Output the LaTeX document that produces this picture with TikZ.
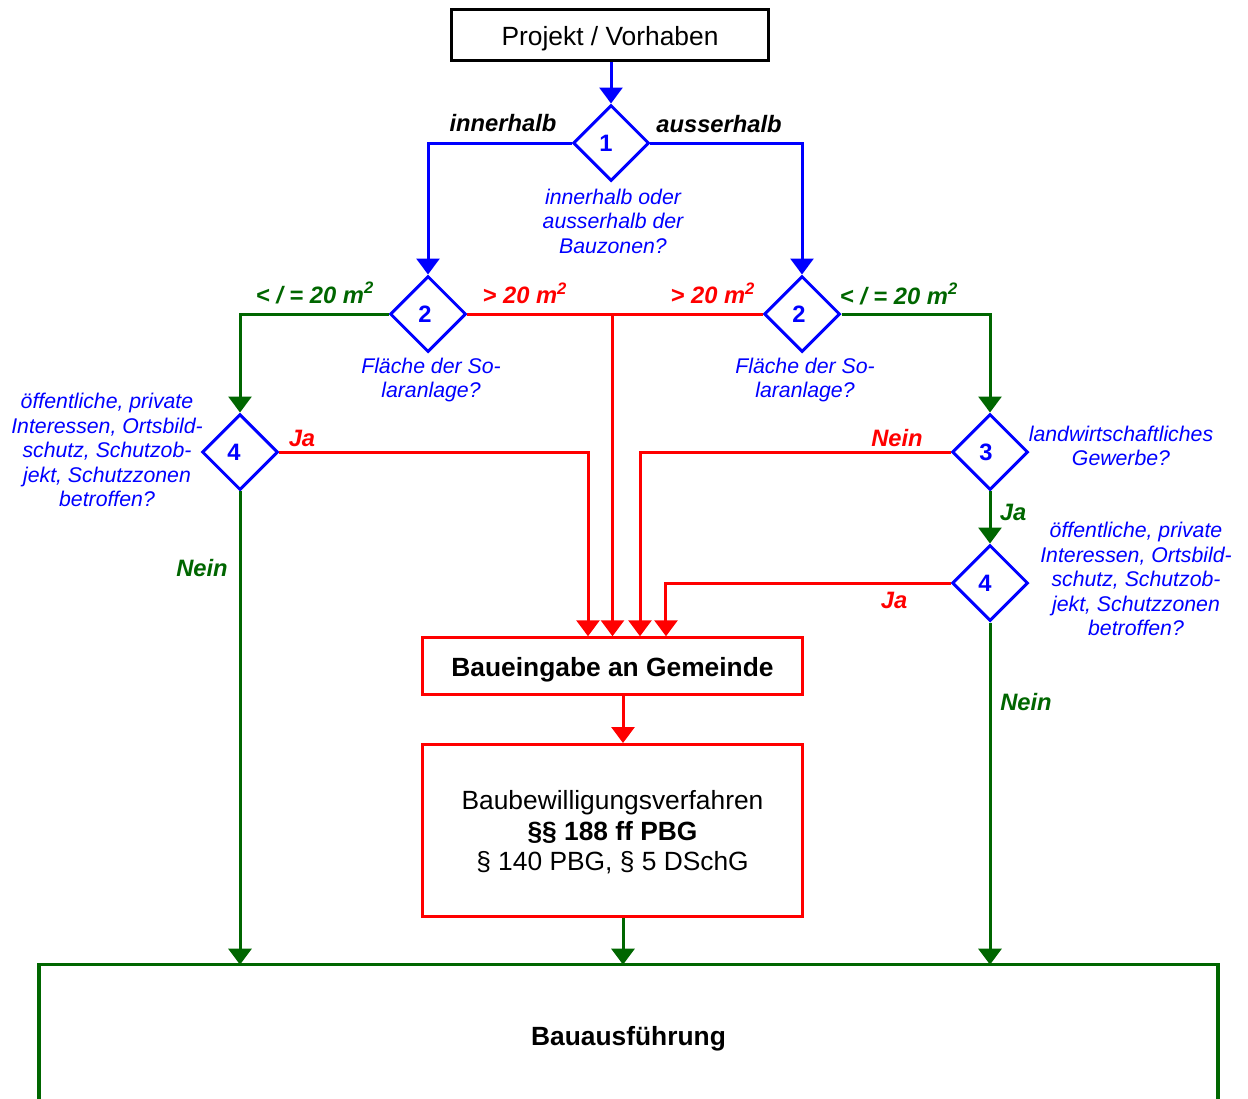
\documentclass[tikz,border=0pt]{standalone}
\usepackage{fontspec}
\setmainfont{Liberation Sans}
\usetikzlibrary{shapes.geometric,arrows.meta}
\definecolor{cblue}{RGB}{0,0,255}
\definecolor{cred}{RGB}{255,0,0}
\definecolor{cgreen}{RGB}{0,102,0}
\begin{document}
\begin{tikzpicture}[x=0.02cm,y=-0.02cm,
  tip/.style={-{Triangle[length=0.32cm,width=0.46cm]}},
  dia/.style={diamond,draw=cblue,line width=0.06cm,minimum width=1.52cm,minimum height=1.52cm,
    inner sep=0pt,aspect=1,fill=white,font=\fontsize{13.5}{16}\selectfont\bfseries,text=cblue},
  q/.style={font=\fontsize{12.1}{13.9}\selectfont\itshape,text=cblue,align=center,inner sep=0pt},
  lab/.style={font=\fontsize{13.5}{16}\selectfont\bfseries\itshape,inner sep=0pt},
  bline/.style={draw=cblue,line width=0.06cm},
  rline/.style={draw=cred,line width=0.06cm},
  gline/.style={draw=cgreen,line width=0.06cm},
  boxtext/.style={font=\fontsize{15}{17.3}\selectfont,align=center,inner sep=0pt}
]
\useasboundingbox (0,0) rectangle (1248,1099);

% boxes
\node[boxtext,draw=black,line width=0.06cm,minimum width=6.34cm,minimum height=1.02cm,
  text height=12pt,text depth=0pt] (pv) at (610,35) {Projekt / Vorhaben};
\node[boxtext,draw=cred,line width=0.06cm,minimum width=7.61cm,minimum height=1.13cm,
  font=\fontsize{15}{17.3}\selectfont\bfseries,text height=12.5pt,text depth=0pt] (be) at (612.5,666)
  {Baueingabe an Gemeinde};
\node[boxtext,draw=cred,line width=0.06cm,minimum width=7.61cm,minimum height=3.44cm,text depth=0pt] (bw) at (612.5,830.5)
  {Baubewilligungsverfahren\\\textbf{§§ 188 ff PBG}\\§ 140 PBG, § 5 DSchG};
\node[boxtext,font=\fontsize{15}{17.3}\selectfont\bfseries,minimum width=23.58cm,minimum height=2.68cm,
  text height=15.8pt,text depth=0pt] (ba) at (628.5,1032) {Bauausführung};
\draw[gline,line width=0.07cm] (ba.south west) -- (ba.north west) -- (ba.north east) -- (ba.south east);

% diamonds
\node[dia] (d1) at (611,143) {\kern-0.2cm 1};
\node[dia] (d2l) at (428,314) {\kern-0.12cm 2};
\node[dia] (d2r) at (802,314) {\kern-0.12cm 2};
\node[dia] (d4l) at (240,452) {\kern-0.24cm 4};
\node[dia] (d3) at (990,452) {\kern-0.16cm 3};
\node[dia] (d4r) at (990,583) {\kern-0.2cm 4};

% blue connectors
\draw[bline,tip] (pv.south -| d1.north) -- (d1.north);
\draw[bline,tip] (d1.west) -| (d2l.north);
\draw[bline,tip] (d1.east) -| (d2r.north);

% red connectors
\draw[rline] (d2l.east) -- (d2r.west);
\draw[rline,tip] (d2l.east -| be.north) -- (be.north);
\draw[rline,tip] (d4l.east) -| ([xshift=-0.49cm]be.north);
\draw[rline,tip] (d3.west) -| ([xshift=0.55cm]be.north);
\draw[rline,tip] (d4r.west) -| ([xshift=1.07cm]be.north);
\draw[rline,tip] ([xshift=0.21cm]be.south) -- ([xshift=0.21cm]bw.north);

% green connectors
\draw[gline,tip] (d2l.west) -| (d4l.north);
\draw[gline,tip] (d2r.east) -| (d3.north);
\draw[gline,tip] (d3.south) -- (d4r.north);
\draw[gline,tip] (d4l.south) -- (d4l.south |- ba.north);
\draw[gline,tip] (d4r.south) -- (d4r.south |- ba.north);
\draw[gline,tip] ([xshift=0.21cm]bw.south) -- ([xshift=0.21cm]bw.south |- ba.north);

% labels
\node[lab,text=black] (l1) at (503,123) {innerhalb};
\node[lab,text=black] (l2) at (719,124) {ausserhalb};
\node[lab,text=cgreen] (l3) at (315,293) {< / = 20 m\textsuperscript{2}};
\node[lab,text=cred] (l4) at (525,293) {> 20 m\textsuperscript{2}};
\node[lab,text=cred] (l5) at (713,293) {> 20 m\textsuperscript{2}};
\node[lab,text=cgreen] (l6) at (899,294) {< / = 20 m\textsuperscript{2}};
\node[lab,text=cred] (l7) at (302,438) {Ja};
\node[lab,text=cgreen] (l8) at (202,568) {Nein};
\node[lab,text=cred] (l9) at (897,438) {Nein};
\node[lab,text=cgreen] (l10) at (1013,512) {Ja};
\node[lab,text=cred] (l11) at (894,600) {Ja};
\node[lab,text=cgreen] (l12) at (1026,702) {Nein};

% questions
\node[q] (q1) at (613,221) {innerhalb oder\\ausserhalb der\\Bauzonen?};
\node[q] (q2l) at (431,380) {Fläche der So-\\laranlage?};
\node[q] (q2r) at (805,380) {Fläche der So-\\laranlage?};
\node[q] (q4l) at (107,450) {öffentliche, private\\Interessen, Ortsbild-\\schutz, Schutzob-\\jekt, Schutzzonen\\betroffen?};
\node[q] (q3) at (1121,446) {landwirtschaftliches\\Gewerbe?};
\node[q] (q4r) at (1136,579) {öffentliche, private\\Interessen, Ortsbild-\\schutz, Schutzob-\\jekt, Schutzzonen\\betroffen?};
\end{tikzpicture}
\end{document}
